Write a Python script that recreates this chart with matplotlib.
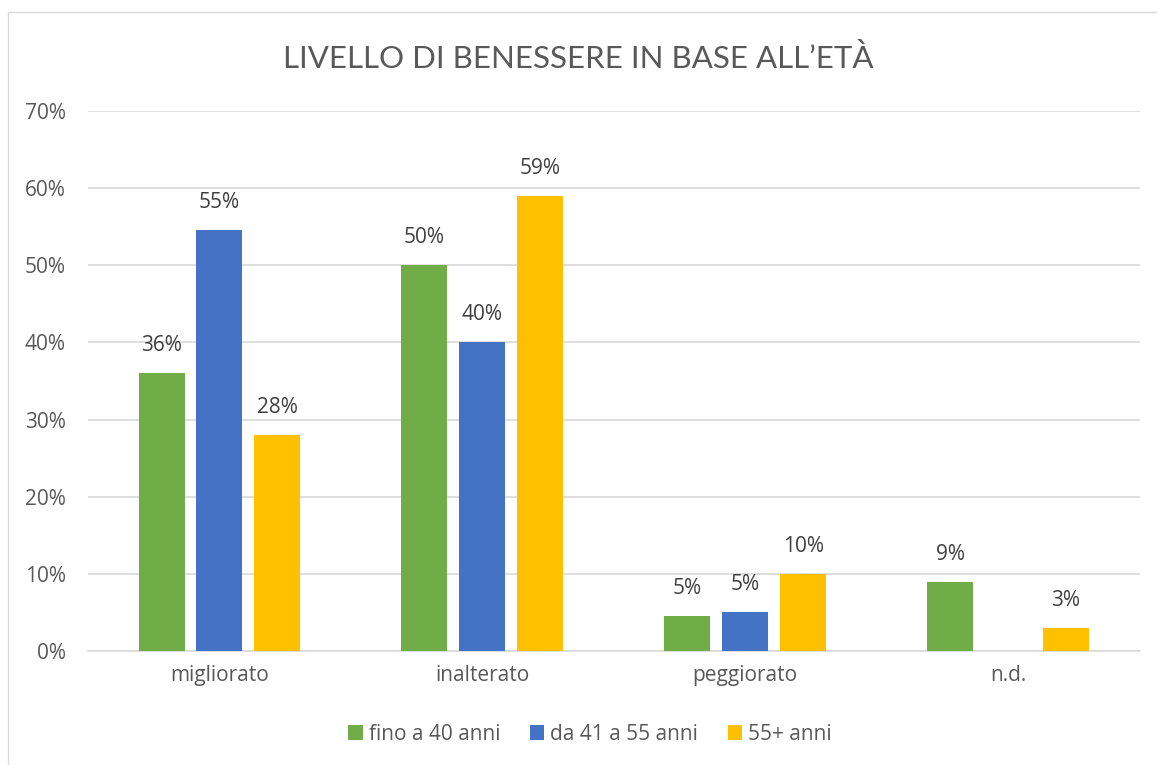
import matplotlib.pyplot as plt
import numpy as np
from matplotlib.patches import Rectangle

categories = ["migliorato", "inalterato", "peggiorato", "n.d."]
fino40 = [36, 50, 4.6, 9]
da41a55 = [54.6, 40, 5, 0]
over55 = [28, 59, 10, 3]
series_names = ["fino a 40 anni", "da 41 a 55 anni", "55+ anni"]
colors = ["#70AD47", "#4472C4", "#FFC000"]

plt.rcParams["font.family"] = ["Open Sans", "DejaVu Sans"]
text_col = "#595959"

fig = plt.figure(figsize=(11.57, 7.65), dpi=100)
ax = fig.add_axes([0.076, 0.149, 0.909, 0.706])

# chart border
fig.patches.append(Rectangle((8 / 1157, -0.01), 1.02, 1 - 12 / 765 + 0.01,
                             transform=fig.transFigure, fill=False,
                             edgecolor="#d9d9d9", linewidth=1))

x = np.arange(len(categories))
width = 0.175
step = 0.22
for i, (vals, name, col) in enumerate(zip([fino40, da41a55, over55], series_names, colors)):
    pos = x + (i - 1) * step
    ax.bar(pos, vals, width, color=col, label=name, zorder=3)
    for p, v in zip(pos, vals):
        if v > 0:
            ax.text(p, v + 2.2, "%d%%" % int(v + 0.5), ha="center", va="bottom",
                    fontsize=15, color="#404040")

ax.set_xlim(-0.5, 3.5)
ax.set_ylim(0, 70)
ax.set_yticks(np.arange(0, 71, 10))
ax.set_yticklabels(["%d%%" % t for t in range(0, 71, 10)])
ax.set_xticks(x)
ax.set_xticklabels(categories)
ax.tick_params(length=0, labelsize=15, labelcolor=text_col)
ax.tick_params(axis="y", pad=16)
ax.tick_params(axis="x", pad=10)
ax.grid(axis="y", color="#d9d9d9", linewidth=1.2, zorder=0)
for s in ["top", "right", "left"]:
    ax.spines[s].set_visible(False)
ax.spines["bottom"].set_color("#d9d9d9")
ax.spines["bottom"].set_linewidth(1.2)

fig.text(0.5, 0.923, "LIVELLO DI BENESSERE IN BASE ALL\u2019ETÀ", ha="center", va="center",
         fontsize=22.5, color=text_col, family=["Lato", "DejaVu Sans"])

leg = fig.legend(loc="center", bbox_to_anchor=(0.51, 0.04), ncol=3, frameon=False,
                 fontsize=15, handlelength=0.7, handleheight=0.7, handletextpad=0.3,
                 columnspacing=1.4, labelcolor=text_col)

fig.savefig("out.png", dpi=100)
